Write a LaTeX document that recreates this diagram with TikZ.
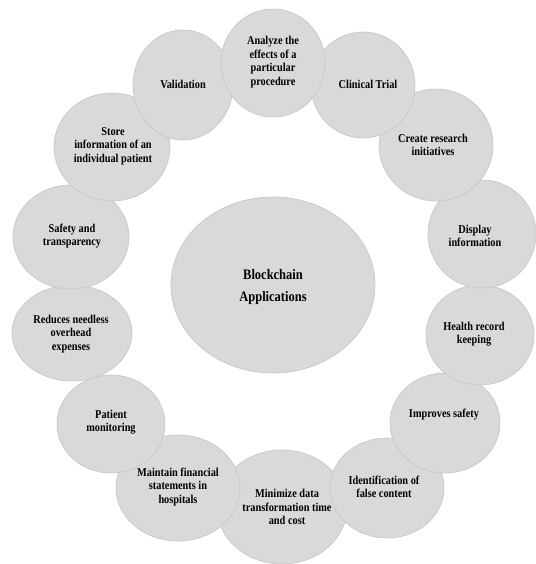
\documentclass[tikz,border=0pt]{standalone}
\usepackage{fontspec}
\setmainfont{Liberation Serif}[FakeStretch=0.86]
\begin{document}
\begin{tikzpicture}[x=1pt,y=-1pt,
  bubble/.style={draw=black!22,line width=0.7pt,fill=black!15},
  lbl/.style={align=center,font=\fontsize{12}{13.5}\selectfont\bfseries,text=black,inner sep=0pt},
  hub/.style={align=center,font=\fontsize{14.5}{22}\selectfont\bfseries,text=black,inner sep=0pt}]
\useasboundingbox (0,0) rectangle (535,564);
% outer ring of applications
\path[bubble] (282,507) ellipse [x radius=65,y radius=57];
\path[bubble] (178,488) ellipse [x radius=62,y radius=53];
\path[bubble] (387,488) ellipse [x radius=57,y radius=50];
\path[bubble] (111,424) ellipse [x radius=54,y radius=49];
\path[bubble] (445,423) ellipse [x radius=55,y radius=50];
\path[bubble] (72,333) ellipse [x radius=60,y radius=48];
\path[bubble] (480,335) ellipse [x radius=54,y radius=50];
\path[bubble] (71,237) ellipse [x radius=58,y radius=52];
\path[bubble] (482,234) ellipse [x radius=54,y radius=54];
\path[bubble] (112,147) ellipse [x radius=58,y radius=54];
\path[bubble] (436,145) ellipse [x radius=57,y radius=56];
\path[bubble] (183,85) ellipse [x radius=50,y radius=55];
\path[bubble] (363,85) ellipse [x radius=52,y radius=53];
\path[bubble] (273,63) ellipse [x radius=52,y radius=54];
% central hub
\path[bubble] (273,285) ellipse [x radius=102,y radius=88];
\node[hub] (hub) at (273,287) {Blockchain\\Applications};
% labels
\node[lbl] (analyze) at (273,62) {Analyze the\\effects of a\\particular\\procedure};
\node[lbl] (clinical) at (368,84) {Clinical Trial};
\node[lbl] (research) at (433,145) {Create research\\initiatives};
\node[lbl] (display) at (475,236) {Display\\information};
\node[lbl] (health) at (474,334) {Health record\\keeping};
\node[lbl] (safety2) at (444,415) {Improves safety};
\node[lbl] (false) at (384,487) {Identification of\\false content};
\node[lbl] (minimize) at (287,507) {Minimize data\\transformation time\\and cost};
\node[lbl] (finance) at (178,487) {Maintain financial\\statements in\\hospitals};
\node[lbl] (monitor) at (111,422) {Patient\\monitoring};
\node[lbl] (reduce) at (71,334) {Reduces needless\\overhead\\expenses};
\node[lbl] (safety) at (72,236) {Safety and\\transparency};
\node[lbl] (store) at (113,146) {Store\\information of an\\individual patient};
\node[lbl] (valid) at (183,84) {Validation};
\end{tikzpicture}
\end{document}
